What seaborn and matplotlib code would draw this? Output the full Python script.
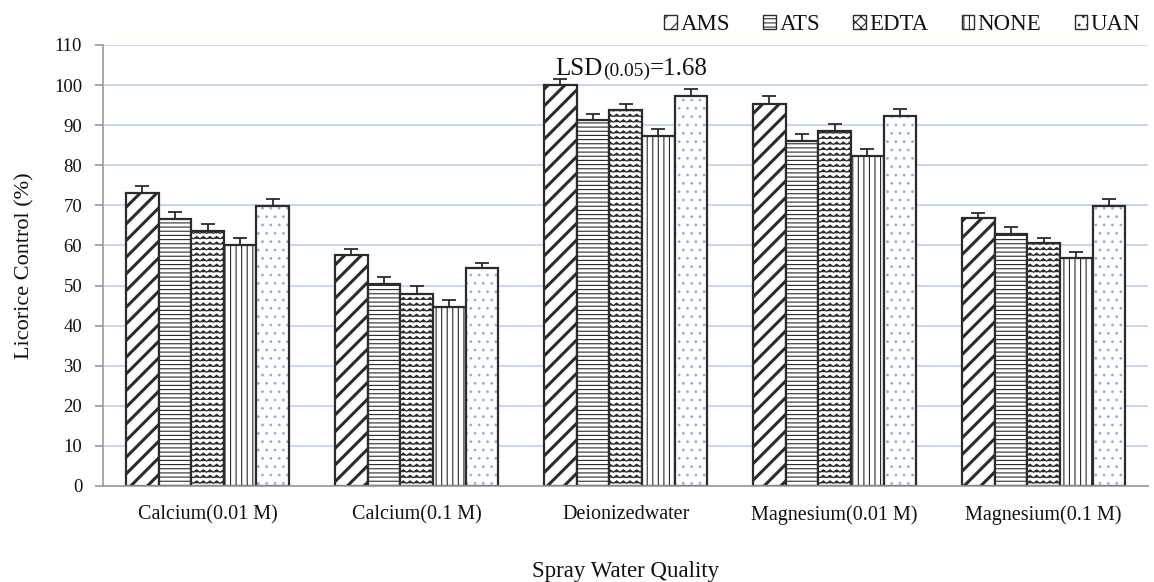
import warnings
import numpy as np
import pandas as pd
import matplotlib
matplotlib.use("Agg")
import matplotlib.pyplot as plt
import matplotlib.patches as mpatches
import matplotlib.hatch as mhatch
import seaborn as sns

warnings.filterwarnings("ignore")

# data
qualities = ["Calcium(0.01 M)", "Calcium(0.1 M)", "Deionizedwater",
             "Magnesium(0.01 M)", "Magnesium(0.1 M)"]
treatments = ["AMS", "ATS", "EDTA", "NONE", "UAN"]

ams = [73.0, 57.5, 100.1, 95.4, 66.8]
ats = [66.5, 50.5, 91.2, 86.1, 62.9]
edta = [63.7, 48.0, 93.7, 88.6, 60.5]
none = [60.2, 44.7, 87.3, 82.3, 56.8]
uan = [69.9, 54.3, 97.3, 92.3, 69.8]

err_ams = [1.8, 1.65, 1.35, 1.8, 1.4]
err_ats = [1.75, 1.65, 1.65, 1.8, 1.8]
err_edta = [1.75, 1.8, 1.5, 1.75, 1.4]
err_none = [1.65, 1.65, 1.65, 1.75, 1.65]
err_uan = [1.75, 1.4, 1.65, 1.65, 1.8]

lsd_label = "=1.68"


# zigzag hatch ('z') for the EDTA bars
class ZigZagHatch(mhatch.HatchPatternBase):
    def __init__(self, hatch, density):
        self.num_rows = hatch.count("z") * density
        self.num_seg = 30
        self.num_vertices = self.num_rows * (self.num_seg + 1)

    def set_vertices_and_codes(self, vertices, codes):
        if self.num_rows == 0:
            return
        xs = np.linspace(0, 1, self.num_seg + 1)
        amp = np.where(np.arange(self.num_seg + 1) % 2 == 1, 0.025, 0.0)
        n = self.num_seg + 1
        for i in range(self.num_rows):
            y0 = i / self.num_rows
            vertices[i * n:(i + 1) * n, 0] = xs
            vertices[i * n:(i + 1) * n, 1] = y0 + amp
            codes[i * n] = mhatch.Path.MOVETO
            codes[i * n + 1:(i + 1) * n] = mhatch.Path.LINETO


mhatch._hatch_types.append(ZigZagHatch)

sns.set_theme(style="white")
plt.rcParams["font.family"] = ["Liberation Serif", "DejaVu Serif"]
plt.rcParams["hatch.linewidth"] = 0.8

df = pd.DataFrame({
    "quality": qualities * 5,
    "treatment": np.repeat(treatments, len(qualities)),
    "control": ams + ats + edta + none + uan,
})
errs = [err_ams, err_ats, err_edta, err_none, err_uan]

fig = plt.figure(figsize=(11.54, 5.82), dpi=100)
ax = fig.add_axes([0.0893, 0.165, 0.9057, 0.7577])

edge = "#2b2b2b"
sns.barplot(data=df, x="quality", y="control", hue="treatment",
            order=qualities, hue_order=treatments, palette=["white"] * 5,
            width=0.78, errorbar=None, edgecolor=edge, linewidth=1.6,
            legend=False, ax=ax)

hatches = ["//", "----", "zzz", "|||", ".."]
hatch_lw = [2.2, 0.8, 0.8, 0.8, 0.8]
dot_color = "#8fb0e0"

bar_groups = list(ax.containers)
for i, cont in enumerate(bar_groups):
    xs, hs = [], []
    for p in cont:
        p.set_hatch(hatches[i])
        if hasattr(p, "set_hatch_linewidth"):
            p.set_hatch_linewidth(hatch_lw[i])
        if treatments[i] == "UAN":
            p.set_edgecolor(dot_color)
            p.set_linewidth(0)
            ax.add_patch(mpatches.Rectangle(p.get_xy(), p.get_width(), p.get_height(),
                                            fill=False, edgecolor=edge, linewidth=1.6,
                                            zorder=p.get_zorder() + 0.1))
        xs.append(p.get_x() + p.get_width() / 2)
        hs.append(p.get_height())
    ax.errorbar(xs, hs, yerr=[np.zeros(len(hs)), errs[i]], fmt="none",
                ecolor=edge, elinewidth=1.3, capsize=5, capthick=1.3, zorder=5)

ax.set_ylim(0, 110)
ax.set_yticks(range(0, 111, 10))
ax.set_xlim(-0.5, len(qualities) - 0.5)
ax.yaxis.grid(True, color="#cbd6f0", linewidth=1.5)
ax.set_axisbelow(True)
for s in ["top", "right"]:
    ax.spines[s].set_visible(False)
for s in ["left", "bottom"]:
    ax.spines[s].set_color("#9a9a9a")
    ax.spines[s].set_linewidth(1.2)
ax.tick_params(axis="y", length=6, color="#9a9a9a", labelsize=13.5, labelcolor="#111111",
               pad=9, left=True)
ax.tick_params(axis="x", length=0, labelsize=14.5, labelcolor="#111111", pad=14)
ax.set_xlabel("Spray Water Quality", fontsize=16.5, labelpad=26, color="#111111")
ax.set_ylabel("Licorice Control (%)", fontsize=16, labelpad=14, color="#111111")

# LSD annotation above the deionized water group
t1 = ax.text(1.665, 101.3, "LSD", fontsize=18, va="bottom", ha="left", color="#111111")
t2 = ax.annotate("(0.05)", xy=(1, 0), xycoords=t1, fontsize=14, va="bottom", ha="left",
                 color="#111111")
t3 = ax.annotate(lsd_label, xy=(1, 0), xycoords=t2, fontsize=18, va="bottom", ha="left",
                 color="#111111")

handles = []
for i, t in enumerate(treatments):
    h = mpatches.Patch(facecolor="white", edgecolor=edge,
                       hatch=hatches[i].replace("zzz", "xxx"), linewidth=1.0, label=t)
    handles.append(h)
fig.legend(handles=handles, loc="upper right", bbox_to_anchor=(1.0, 1.0), ncol=5,
           frameon=False, fontsize=16.5, handlelength=0.55, handleheight=0.55,
           handletextpad=0.15, columnspacing=1.45, borderaxespad=0.2,
           labelcolor="#111111")

fig.savefig("out.png", dpi=100)
